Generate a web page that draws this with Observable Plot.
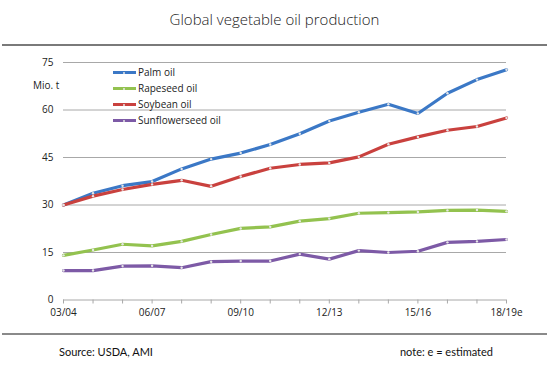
<!DOCTYPE html>
<html><head><meta charset="utf-8">
<script src="https://cdn.jsdelivr.net/npm/d3@7"></script>
<script src="https://cdn.jsdelivr.net/npm/@observablehq/plot@0.6"></script>
<style>
html,body{margin:0;padding:0;background:#fff;}
#wrap{position:relative;width:549px;height:376px;overflow:hidden;font-family:"Open Sans",sans-serif;color:#222;}
#title{position:absolute;left:0;width:549px;top:9px;text-align:center;font-size:15px;font-weight:300;color:#222;}
.rule{position:absolute;left:2px;width:545px;background:#7a7a7a;}
#chart{position:absolute;left:0;top:50px;}
#unit{position:absolute;left:33px;top:78px;font-size:10px;}
.leg{position:absolute;left:113px;font-size:10px;height:14px;line-height:14px;}
.leg span.sw{position:absolute;left:0;top:6px;width:23px;height:3px;}
.leg span.sw i{position:absolute;left:10px;top:0.5px;width:2px;height:2px;background:#e8e8e8;border-radius:1px;}
.leg span.tx{position:absolute;left:25px;top:0;white-space:nowrap;}
.foot{position:absolute;top:345px;font-family:Lato,sans-serif;font-size:11px;color:#111;}
</style></head>
<body><div id="wrap">
<div id="title">Global vegetable oil production</div>
<div class="rule" style="top:44px;height:1.5px;"></div>
<div id="chart"></div>
<div id="unit">Mio. t</div>
<div id="legend"></div>
<div class="rule" style="top:333px;height:2px;background:#8a8a8a;"></div>
<div class="foot" style="left:59px;">Source: USDA, AMI</div>
<div class="foot" style="right:56px;">note: e = estimated</div>
</div>
<script>
const years = ["03/04","04/05","05/06","06/07","07/08","08/09","09/10","10/11","11/12","12/13","13/14","14/15","15/16","16/17","17/18","18/19e"];
const yTicks = [0, 15, 30, 45, 60, 75];
const seriesNames = ["Palm oil", "Rapeseed oil", "Soybean oil", "Sunflowerseed oil"];
const seriesColors = ["#3b78c6", "#93c24f", "#c9413e", "#7d5aa6"];
const palm = [30.0, 33.7, 36.1, 37.4, 41.4, 44.5, 46.4, 49.1, 52.5, 56.5, 59.3, 61.8, 58.9, 65.3, 69.6, 72.7];
const rapeseed = [14.1, 15.8, 17.6, 17.1, 18.5, 20.7, 22.6, 23.1, 24.9, 25.7, 27.4, 27.6, 27.8, 28.3, 28.4, 28.0];
const soybean = [30.0, 32.8, 34.9, 36.5, 37.8, 35.9, 39.0, 41.6, 42.8, 43.3, 45.2, 49.2, 51.5, 53.6, 54.8, 57.5];
const sunflower = [9.3, 9.3, 10.7, 10.8, 10.2, 12.1, 12.3, 12.3, 14.5, 12.9, 15.6, 15.0, 15.4, 18.2, 18.5, 19.1];

const seriesValues = [palm, rapeseed, soybean, sunflower];
const rows = [];
seriesNames.forEach((s, k) => seriesValues[k].forEach((v, i) => rows.push({series: s, i, v})));

const chart = Plot.plot({
  width: 549, height: 270,
  marginTop: 12, marginBottom: 20.5, marginLeft: 63, marginRight: 43,
  x: {domain: [0, years.length - 1]},
  y: {domain: [0, 75]},
  color: {domain: seriesNames, range: seriesColors},
  style: {fontFamily: "Open Sans, sans-serif", fontSize: "10px", color: "#222", background: "transparent", overflow: "visible"},
  marks: [
    Plot.ruleY(yTicks.slice(1), {stroke: "#a8a8a8", strokeWidth: 1}),
    Plot.ruleY([0], {stroke: "#a8a8a8", strokeWidth: 1}),
    Plot.axisY({ticks: yTicks, tickSize: 0, tickPadding: 10, label: null, fill: "#222"}),
    Plot.axisX({ticks: d3.range(years.length), tickSize: 4, tickPadding: 5, label: null,
      tickFormat: i => (i % 3 === 0 ? years[i] : ""), stroke: "#a8a8a8", fill: "#222"}),
    Plot.line(rows, {x: "i", y: "v", z: "series", stroke: "series", strokeWidth: 3.2, strokeLinejoin: "round", curve: "linear"}),
    Plot.dot(rows, {x: "i", y: "v", r: 1.2, fill: "#e6e6e6", stroke: "none"})
  ]
});
document.getElementById("chart").appendChild(chart);

const legendTops = [65, 81, 97, 113];
const legend = document.getElementById("legend");
seriesNames.forEach((s, k) => {
  const d = document.createElement("div");
  d.className = "leg";
  d.style.top = legendTops[k] + "px";
  d.innerHTML = `<span class="sw" style="background:${seriesColors[k]}"><i></i></span><span class="tx">${s}</span>`;
  legend.appendChild(d);
});
</script>
</body></html>
